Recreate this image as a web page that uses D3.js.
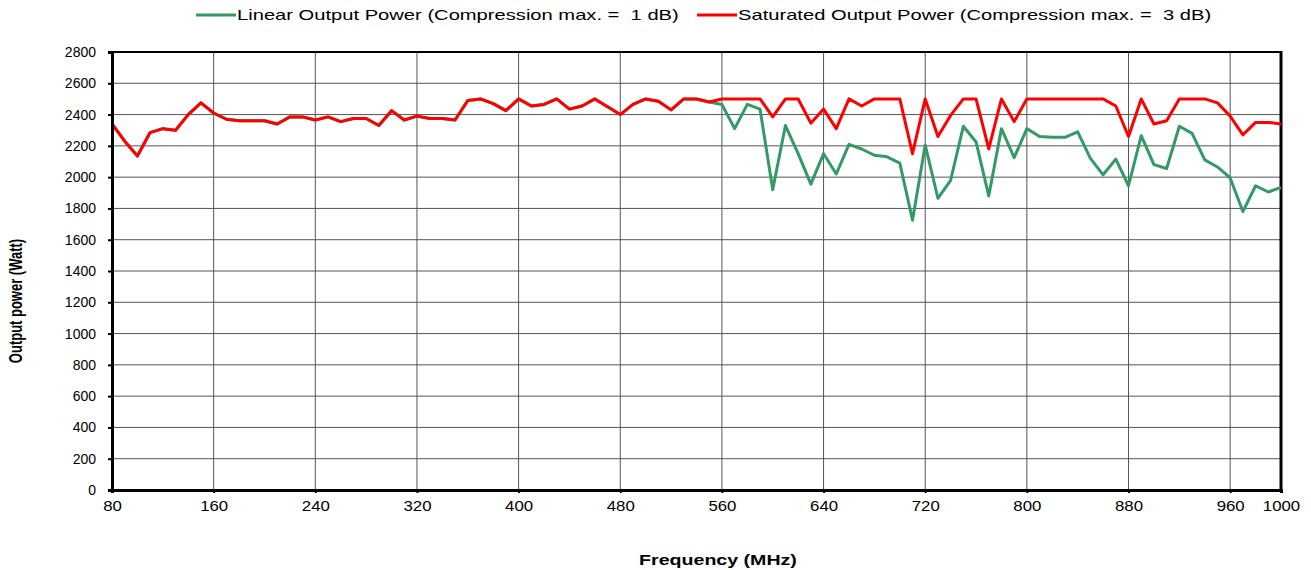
<!DOCTYPE html>
<html>
<head>
<meta charset="utf-8">
<script src="https://cdn.jsdelivr.net/npm/d3@7"></script>
<style>
  body { margin: 0; background: #fff; }
  svg { font-family: "Liberation Sans", Arial, sans-serif; }
  text { white-space: pre; }
</style>
</head>
<body>
<script>
'use strict';

var width = 1311,
    height = 570;

// frequency in MHz, 10 MHz steps
var freqs = [80, 90, 100, 110, 120, 130, 140, 150, 160, 170, 180, 190, 200, 210, 220, 230, 240, 250, 260, 270,
             280, 290, 300, 310, 320, 330, 340, 350, 360, 370, 380, 390, 400, 410, 420, 430, 440, 450, 460, 470,
             480, 490, 500, 510, 520, 530, 540, 550, 560, 570, 580, 590, 600, 610, 620, 630, 640, 650, 660, 670,
             680, 690, 700, 710, 720, 730, 740, 750, 760, 770, 780, 790, 800, 810, 820, 830, 840, 850, 860, 870,
             880, 890, 900, 910, 920, 930, 940, 950, 960, 970, 980, 990, 1000];

var saturated = [2340, 2230, 2135, 2285, 2310, 2300, 2400, 2475, 2410, 2370, 2360, 2360, 2360, 2340, 2385, 2385, 2365, 2385, 2355, 2375,
                 2375, 2330, 2425, 2365, 2390, 2375, 2375, 2365, 2490, 2500, 2470, 2425, 2500, 2455, 2465, 2500, 2435, 2455, 2500, 2450,
                 2400, 2465, 2500, 2485, 2430, 2500, 2500, 2480, 2500, 2500, 2500, 2500, 2385, 2500, 2500, 2345, 2435, 2310, 2500, 2455,
                 2500, 2500, 2500, 2150, 2500, 2260, 2395, 2500, 2500, 2180, 2500, 2355, 2500, 2500, 2500, 2500, 2500, 2500, 2500, 2455,
                 2260, 2500, 2340, 2360, 2500, 2500, 2500, 2475, 2390, 2270, 2350, 2350, 2340];

var linear = [2340, 2230, 2135, 2285, 2310, 2300, 2400, 2475, 2410, 2370, 2360, 2360, 2360, 2340, 2385, 2385, 2365, 2385, 2355, 2375,
              2375, 2330, 2425, 2365, 2390, 2375, 2375, 2365, 2490, 2500, 2470, 2425, 2500, 2455, 2465, 2500, 2435, 2455, 2500, 2450,
              2400, 2465, 2500, 2485, 2430, 2500, 2500, 2480, 2465, 2310, 2465, 2435, 1920, 2330, 2150, 1955, 2150, 2020, 2210, 2180,
              2140, 2130, 2090, 1725, 2205, 1865, 1980, 2325, 2225, 1880, 2310, 2125, 2310, 2260, 2255, 2255, 2290, 2120, 2015, 2115,
              1945, 2265, 2080, 2055, 2325, 2280, 2110, 2065, 1995, 1780, 1945, 1905, 1935];

var xTicks = [80, 160, 240, 320, 400, 480, 560, 640, 720, 800, 880, 960, 1000];
var yTicks = [0, 200, 400, 600, 800, 1000, 1200, 1400, 1600, 1800, 2000, 2200, 2400, 2600, 2800];

var seriesNames = ['Linear Output Power (Compression max. =  1 dB)',
                   'Saturated Output Power (Compression max. =  3 dB)'];
var seriesColors = ['#339966', '#ff0000'];

// the original picture is stretched sideways, so is its text
var stretch = 1.4;

var svg = d3.select('body').append('svg')
    .attr('width', width)
    .attr('height', height);

var x = d3.scaleLinear().domain([80, 1000]).range([112, 1281]);
var y = d3.scaleLinear().domain([0, 2800]).range([490, 52]);

// grid
svg.append('g').selectAll('line')
    .data(xTicks.filter(function(d) { return d > 80 && d < 1000; }))
  .enter().append('line')
    .attr('x1', function(d) { return x(d); })
    .attr('x2', function(d) { return x(d); })
    .attr('y1', y(0))
    .attr('y2', y(2800))
    .attr('stroke', '#555')
    .attr('stroke-width', 1);

svg.append('g').selectAll('line')
    .data(yTicks.filter(function(d) { return d > 0 && d < 2800; }))
  .enter().append('line')
    .attr('x1', x(80))
    .attr('x2', x(1000))
    .attr('y1', function(d) { return y(d); })
    .attr('y2', function(d) { return y(d); })
    .attr('stroke', '#555')
    .attr('stroke-width', 1);

// frame top / right
svg.append('line')
    .attr('x1', x(80)).attr('x2', x(1000))
    .attr('y1', y(2800)).attr('y2', y(2800))
    .attr('stroke', '#000').attr('stroke-width', 2);
svg.append('line')
    .attr('x1', x(1000)).attr('x2', x(1000))
    .attr('y1', y(2800) - 1).attr('y2', y(0))
    .attr('stroke', '#000').attr('stroke-width', 3);

// lines
var line = d3.line()
    .x(function(d, i) { return x(freqs[i]); })
    .y(function(d) { return y(d); });

[linear, saturated].forEach(function(s, k) {
  svg.append('path')
      .datum(s)
      .attr('fill', 'none')
      .attr('stroke', seriesColors[k])
      .attr('stroke-width', 3)
      .attr('stroke-linejoin', 'round')
      .attr('d', line);
});

// axes
var yAxis = svg.append('g')
    .attr('transform', 'translate(' + x(80) + ',0)')
    .call(d3.axisLeft(y).tickValues(yTicks).tickFormat(d3.format('d')).tickSize(4).tickPadding(12));
var xAxis = svg.append('g')
    .attr('transform', 'translate(0,' + y(0) + ')')
    .call(d3.axisBottom(x).tickValues(xTicks).tickFormat(d3.format('d')).tickSize(3).tickPadding(8));

[yAxis, xAxis].forEach(function(a) {
  a.select('.domain').attr('stroke', '#000').attr('stroke-width', 3);
  a.selectAll('.tick line').attr('stroke', '#000').attr('stroke-width', 2);
  a.selectAll('.tick text')
      .attr('font-family', '"Liberation Sans", Arial, sans-serif')
      .attr('font-size', 14)
      .attr('fill', '#000');
});
// x labels are a bit wider than the y ones (x stays 0, so they stay centred)
xAxis.selectAll('.tick text').attr('transform', 'scale(1.2,1)');

// axis titles
svg.append('text')
    .attr('transform', 'translate(718,565) scale(' + stretch + ',1)')
    .attr('text-anchor', 'middle')
    .attr('font-weight', 'bold')
    .attr('font-size', 14)
    .text('Frequency (MHz)');

svg.append('text')
    .attr('transform', 'translate(22,301) scale(' + stretch + ',1) rotate(-90)')
    .attr('text-anchor', 'middle')
    .attr('font-weight', 'bold')
    .attr('font-size', 13)
    .text('Output power (Watt)');

// legend
var legendX = [196, 697];
seriesNames.forEach(function(name, k) {
  var g = svg.append('g').attr('transform', 'translate(' + legendX[k] + ',15)');
  g.append('line')
      .attr('x1', 0).attr('x2', 40)
      .attr('stroke', seriesColors[k])
      .attr('stroke-width', 3);
  g.append('text')
      .attr('transform', 'translate(41,5) scale(1.44,1)')
      .attr('font-size', 14)
      .text(name);
});
</script>
</body>
</html>
